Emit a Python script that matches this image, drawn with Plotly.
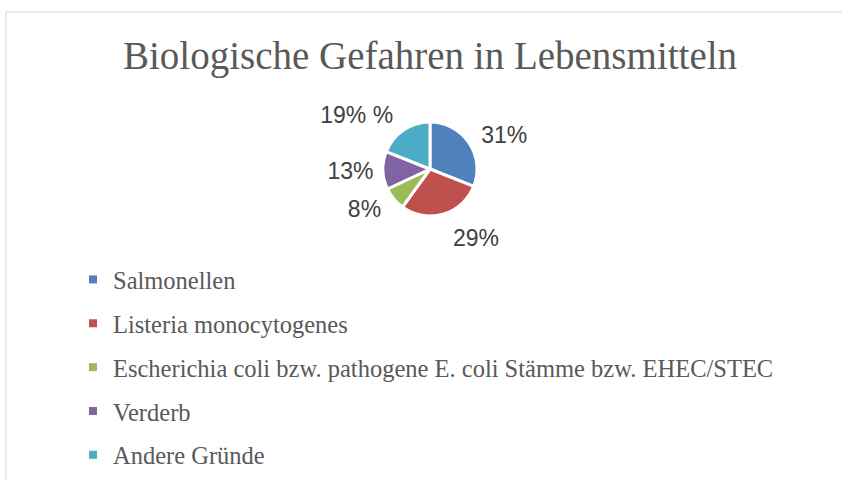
import plotly.graph_objects as go

categories = [
    "Salmonellen",
    "Listeria monocytogenes",
    "Escherichia coli bzw. pathogene E. coli Stämme bzw. EHEC/STEC",
    "Verderb",
    "Andere Gründe",
]
values = [31, 29, 8, 13, 19]
slice_labels = ["31%", "29%", "8%", "13%", "19% %"]
colors = ["#4F81BD", "#C0504D", "#9BBB59", "#8064A2", "#4BACC6"]

# styling: how far each data label sits outside the pie (pull of an invisible label ring)
label_pull = [0.08, 0.18, 0.10, 0.0, 0.08]

W, H = 842, 481
CX, CY = 430, 169          # pie centre (px)
R = 47                     # visible pie radius (px)
RL = 50                    # base radius of the label ring (px)

def dom(cx, cy, half):
    return dict(x=[(cx - half) / W, (cx + half) / W],
                y=[1 - (cy + half) / H, 1 - (cy - half) / H])

fig = go.Figure()

# invisible pie that only carries the outside data labels
fig.add_trace(go.Pie(
    labels=categories,
    values=values,
    text=slice_labels,
    texttemplate="%{text}",
    textposition="outside",
    textfont=dict(family="Liberation Sans", size=23, color="#404040"),
    sort=False,
    direction="clockwise",
    rotation=0,
    pull=label_pull,
    marker=dict(colors=["rgba(0,0,0,0)"] * len(values), line=dict(width=0)),
    domain=dom(CX, CY, RL * (1 + max(label_pull))),
    showlegend=False,
    hoverinfo="skip",
))

# visible pie
fig.add_trace(go.Pie(
    labels=categories,
    values=values,
    textinfo="none",
    sort=False,
    direction="clockwise",
    rotation=0,
    marker=dict(colors=colors, line=dict(color="white", width=3)),
    domain=dom(CX, CY, R),
    showlegend=False,
    hoverinfo="label+percent",
))

for name, col in zip(categories, colors):
    fig.add_trace(go.Scatter(
        x=[None], y=[None], mode="markers", name=name,
        legendgroup=name,
        marker=dict(symbol="square", size=8, color=col),
    ))

fig.update_layout(
    width=W, height=H,
    margin=dict(l=0, r=0, t=0, b=0),
    paper_bgcolor="white",
    plot_bgcolor="white",
    title=dict(
        text="Biologische Gefahren in Lebensmitteln",
        font=dict(family="Liberation Serif", size=39, color="#595959"),
        x=430 / W, xanchor="center",
        y=1 - 55 / H, yanchor="middle",
    ),
    xaxis=dict(visible=False),
    yaxis=dict(visible=False),
    legend=dict(
        x=73 / W, xanchor="left",
        y=1 - 257 / H, yanchor="top",
        font=dict(family="Liberation Serif", size=24.5, color="#595959"),
        tracegroupgap=9,
        bgcolor="rgba(0,0,0,0)",
    ),
    shapes=[
        dict(type="line", xref="paper", yref="paper",
             x0=6 / W, x1=1, y0=1 - 12 / H, y1=1 - 12 / H,
             line=dict(color="#D9D9D9", width=1)),
        dict(type="line", xref="paper", yref="paper",
             x0=6 / W, x1=6 / W, y0=0, y1=1 - 12 / H,
             line=dict(color="#D9D9D9", width=1)),
    ],
)

fig.write_html("out.html", config={"displayModeBar": False},
               post_script="document.body.style.margin='0';")
